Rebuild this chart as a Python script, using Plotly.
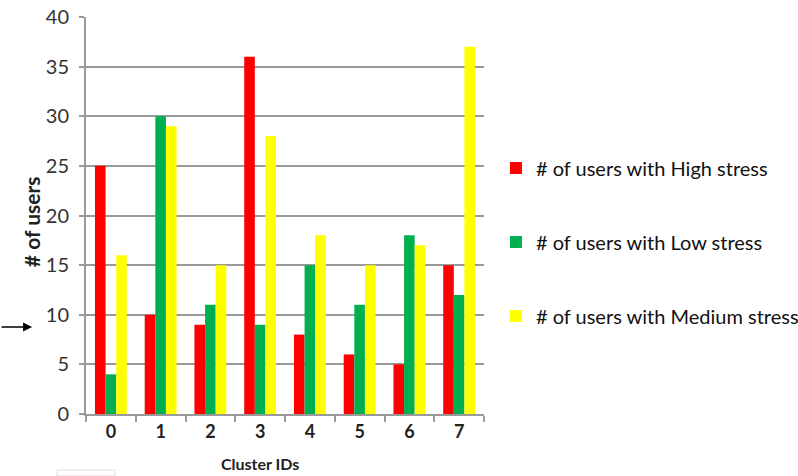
import plotly.graph_objects as go

# Users per cluster, split by stress level
clusters = ["0", "1", "2", "3", "4", "5", "6", "7"]
high_stress = [25, 10, 9, 36, 8, 6, 5, 15]
low_stress = [4, 30, 11, 9, 15, 11, 18, 12]
medium_stress = [16, 29, 15, 28, 18, 15, 17, 37]

series = [
    ("# of users with High stress", high_stress, "#FF0000"),
    ("# of users with Low stress", low_stress, "#00B050"),
    ("# of users with Medium stress", medium_stress, "#FFFF00"),
]

FONT = "Lato"
GRID = "#9a9a9a"
PLOT_W, PLOT_H = 399, 397  # plot area size in px (for paper-relative placement)

fig = go.Figure()
for i, (name, vals, color) in enumerate(series):
    fig.add_trace(go.Bar(
        x=clusters, y=vals, name=name,
        marker=dict(color=color, line=dict(width=0)),
        legendgroup=f"g{i}",
    ))

fig.update_layout(
    width=798, height=476,
    margin=dict(l=86, r=314, t=17, b=62, autoexpand=False),
    paper_bgcolor="white", plot_bgcolor="white",
    barmode="group", bargap=0.36, bargroupgap=0,
    font=dict(family=FONT, color="#222222"),
    showlegend=True,
    legend=dict(
        x=1.03, xanchor="left", y=0.433, yanchor="middle",
        font=dict(family=FONT, size=20, color="#111111"),
        tracegroupgap=45, itemwidth=30,
        bgcolor="rgba(0,0,0,0)",
    ),
    xaxis=dict(
        type="category", automargin=False,
        tickson="boundaries", ticks="outside", ticklen=6, tickwidth=2,
        tickcolor=GRID,
        showline=True, linecolor=GRID, linewidth=2,
        showgrid=False,
        tickfont=dict(family=FONT, size=18, color="#222222", weight="bold"),
    ),
    yaxis=dict(
        range=[0, 40], dtick=5, automargin=False,
        ticks="outside", ticklen=5, tickwidth=2, tickcolor=GRID,
        showline=True, linecolor=GRID, linewidth=2,
        showgrid=True, gridcolor=GRID, gridwidth=2,
        zeroline=False,
        ticklabelstandoff=6,
        tickfont=dict(family=FONT, size=20, color="#333333"),
    ),
    annotations=[
        # axis titles
        dict(
            xref="paper", yref="paper",
            x=(260 - 86) / PLOT_W, y=(414 - 463) / PLOT_H,
            xanchor="center", yanchor="middle",
            text="Cluster IDs", showarrow=False,
            font=dict(family=FONT, size=16, color="#222222", weight="bold"),
        ),
        dict(
            xref="paper", yref="paper",
            x=(32 - 86) / PLOT_W, y=(414 - 222) / PLOT_H,
            xanchor="center", yanchor="middle", textangle=-90,
            text="# of users", showarrow=False,
            font=dict(family=FONT, size=21, color="#222222", weight="bold"),
        ),
        # pointer arrow on the left
        dict(
            xref="paper", yref="paper",
            x=(32 - 86) / PLOT_W, y=(414 - 327) / PLOT_H,
            ax=-32, ay=0, axref="pixel", ayref="pixel",
            text="", showarrow=True,
            arrowhead=2, arrowsize=1.4, arrowwidth=1.3, arrowcolor="#000000",
        ),
    ],
    shapes=[
        dict(
            type="rect", xref="paper", yref="paper",
            x0=(57 - 86) / PLOT_W, x1=(115 - 86) / PLOT_W,
            y0=(414 - 476) / PLOT_H, y1=(414 - 470) / PLOT_H,
            line=dict(color="#e6dcdc", width=1), fillcolor="rgba(0,0,0,0)",
        )
    ],
)

fig.write_html("out.html")
